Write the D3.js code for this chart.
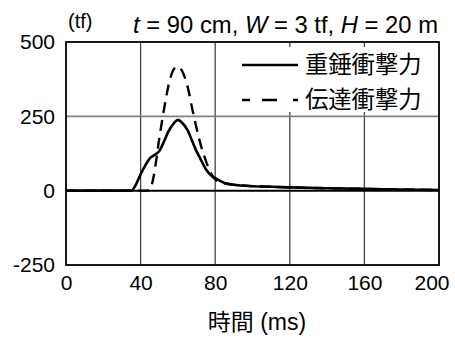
<!DOCTYPE html>
<html>
<head>
<meta charset="utf-8">
<script src="https://cdn.jsdelivr.net/npm/d3@7"></script>
<style>
  body { margin: 0; background: #fff; }
  text { font-family: "Liberation Sans", Arial, "Noto Sans CJK JP", sans-serif; fill: #000; }
  .jp { font-family: "Liberation Sans", "Noto Sans CJK JP", sans-serif; }
</style>
</head>
<body>
<div id="chart"></div>
<script>
// time (ms)
var times = [0, 10, 20, 30, 35, 37, 40, 43, 45, 47, 50, 53, 55, 58, 60, 62, 65, 68, 70, 72, 75, 78, 80, 85, 90, 100, 110, 120, 140, 160, 180, 200];
// 重錘衝撃力 (tf)
var hammerForce = [0, 0, 0, 0, 0, 15, 55, 90, 109, 118, 133, 172, 200, 228, 238, 230, 205, 162, 132, 108, 72, 50, 42, 26, 20, 15, 13, 11, 8, 6, 4, 2];
// 伝達衝撃力 (tf)
var transForce = [0, 0, 0, 0, 0, 0, 0, 0, 3, 48, 175, 290, 355, 410, 417, 405, 355, 266, 210, 160, 100, 55, 38, 25, 20, 15, 13, 11, 8, 6, 4, 2];

var xTicks = [0, 40, 80, 120, 160, 200];
var yTicks = [-250, 0, 250, 500];
var seriesNames = ["重錘衝撃力", "伝達衝撃力"];

var width = 455;
var height = 338;
var margin = { top: 42, right: 16, bottom: 73, left: 66 };

var svg = d3.select("#chart")
  .append("svg")
  .attr("width", width)
  .attr("height", height);

var x = d3.scaleLinear().domain([0, 200]).range([margin.left, width - margin.right]);
var y = d3.scaleLinear().domain([-250, 500]).range([height - margin.bottom, margin.top]);

// grid lines
svg.append("g")
  .selectAll("line")
  .data([40, 80, 120, 160])
  .enter()
  .append("line")
  .attr("x1", function(d) { return x(d); })
  .attr("x2", function(d) { return x(d); })
  .attr("y1", y(500))
  .attr("y2", y(-250))
  .attr("stroke", "#444")
  .attr("stroke-width", 1.3);

svg.append("line")
  .attr("x1", x(0)).attr("x2", x(200))
  .attr("y1", y(250)).attr("y2", y(250))
  .attr("stroke", "#808080")
  .attr("stroke-width", 1.6);

svg.append("line")
  .attr("x1", x(0)).attr("x2", x(200))
  .attr("y1", y(0)).attr("y2", y(0))
  .attr("stroke", "#000")
  .attr("stroke-width", 2);

// axes (labels only), plain hyphen for negatives
var xAxis = d3.axisBottom(x).tickValues(xTicks).tickSize(0).tickPadding(10).tickFormat(String);
var yAxis = d3.axisLeft(y).tickValues(yTicks).tickSize(0).tickPadding(11).tickFormat(String);

var gx = svg.append("g")
  .attr("transform", "translate(0," + y(-250) + ")")
  .call(xAxis)
  .call(function(g) { g.select(".domain").remove(); });
gx.selectAll("text")
  .attr("font-size", 21)
  .attr("font-family", "Liberation Sans, Arial, sans-serif");
// last label kept inside the page
gx.selectAll("text")
  .filter(function(d) { return d === 200; })
  .attr("text-anchor", "end")
  .attr("x", 10);

svg.append("g")
  .attr("transform", "translate(" + x(0) + ",0)")
  .call(yAxis)
  .call(function(g) { g.select(".domain").remove(); })
  .selectAll("text")
  .attr("font-size", 21)
  .attr("font-family", "Liberation Sans, Arial, sans-serif");

// lines
var line = d3.line()
  .x(function(d) { return x(d[0]); })
  .y(function(d) { return y(d[1]); })
  .curve(d3.curveMonotoneX);

svg.append("path")
  .datum(d3.zip(times, transForce))
  .attr("d", line)
  .attr("fill", "none")
  .attr("stroke", "#000")
  .attr("stroke-width", 2.4)
  .attr("stroke-dasharray", "11,7");

svg.append("path")
  .datum(d3.zip(times, hammerForce))
  .attr("d", line)
  .attr("fill", "none")
  .attr("stroke", "#000")
  .attr("stroke-width", 2.6);

// legend
var legend = svg.append("g");
legend.append("rect")
  .attr("x", 232).attr("y", 47)
  .attr("width", x(200) - 233).attr("height", 65)
  .attr("fill", "#fff");

[0, 1].forEach(function(i) {
  var ly = 65 + i * 35;
  legend.append("line")
    .attr("x1", 242).attr("x2", 298)
    .attr("y1", ly).attr("y2", ly)
    .attr("stroke", "#000")
    .attr("stroke-width", 2.6)
    .attr("stroke-dasharray", i === 1 ? "8,12,15,16,5" : null);
  legend.append("text")
    .attr("class", "jp")
    .attr("x", 305)
    .attr("y", ly + 8)
    .attr("font-size", 23.3)
    .text(seriesNames[i]);
});

// frame
svg.append("rect")
  .attr("x", x(0)).attr("y", y(500))
  .attr("width", x(200) - x(0)).attr("height", y(-250) - y(500))
  .attr("fill", "none")
  .attr("stroke", "#000")
  .attr("stroke-width", 1.8);

// unit label
svg.append("text")
  .attr("x", 68).attr("y", 28)
  .attr("font-size", 20)
  .text("(tf)");

// title
var title = svg.append("text")
  .attr("x", x(200) - 1).attr("y", 33)
  .attr("text-anchor", "end")
  .attr("font-size", 23.8);
title.append("tspan").attr("font-style", "italic").text("t");
title.append("tspan").text(" = 90 cm, ");
title.append("tspan").attr("font-style", "italic").text("W");
title.append("tspan").text(" = 3 tf, ");
title.append("tspan").attr("font-style", "italic").text("H");
title.append("tspan").text(" = 20 m");

// x axis title
svg.append("text")
  .attr("class", "jp")
  .attr("x", 257).attr("y", 330)
  .attr("text-anchor", "middle")
  .attr("font-size", 23)
  .text("時間 (ms)");
</script>
</body>
</html>
